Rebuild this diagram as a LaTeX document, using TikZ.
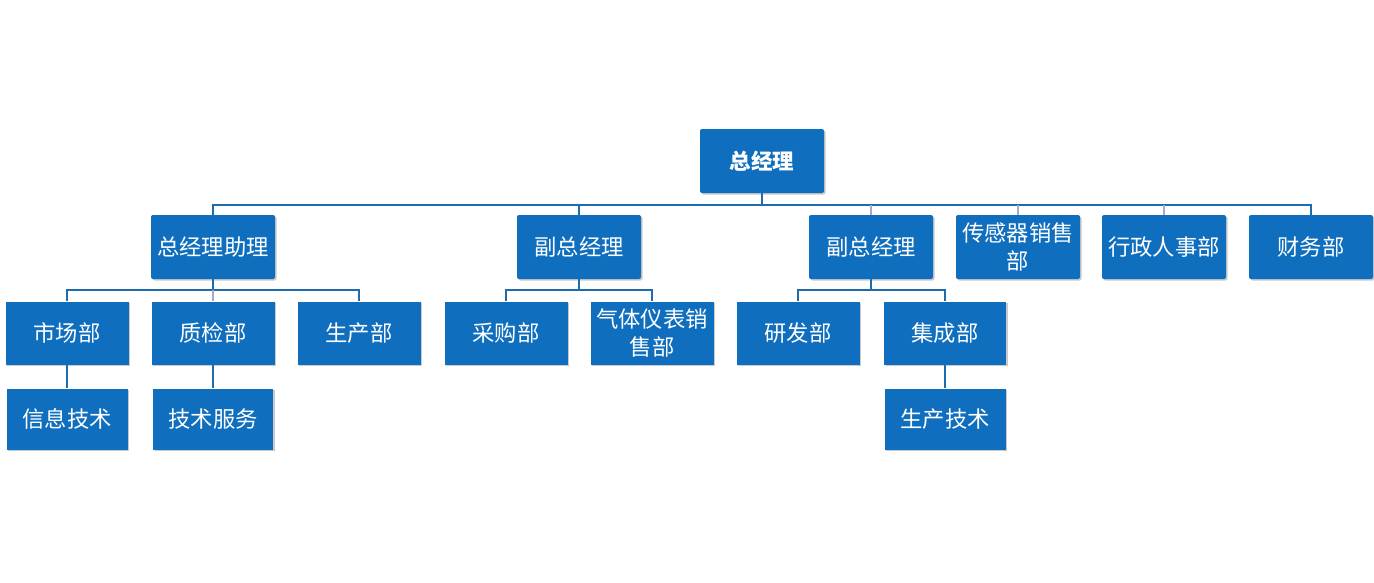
\documentclass[tikz,border=0pt]{standalone}
\usepackage{fontspec}
\setmainfont{Noto Sans CJK SC}
\usetikzlibrary{shadows}
\definecolor{boxblue}{RGB}{15,111,190}
\definecolor{lineblue}{RGB}{30,108,172}
\definecolor{lightline}{RGB}{165,170,200}
\tikzset{
  x=1pt,y=-1pt,
  org/.style={fill=boxblue, text=white, minimum width=124pt, minimum height=64pt, inner sep=0pt,
    font=\fontsize{22.3}{27.5}\selectfont, align=center,
    drop shadow={shadow xshift=1.5pt, shadow yshift=-1.5pt, opacity=0.35, fill=black!60}},
  orgr/.style={org, rounded corners=2pt},
  conn/.style={draw=lineblue, line width=2pt},
  lconn/.style={draw=lightline, line width=2pt},
}
\begin{document}
\begin{tikzpicture}
\useasboundingbox (0,0) rectangle (1374,582);
% level 1
\node[orgr, font=\bfseries\fontsize{21.5}{28}\selectfont] (top) at (762,161) {总经理};
% level 2
\node[orgr] (a1) at (213,247) {总经理助理};
\node[orgr] (a2) at (579,247) {副总经理};
\node[orgr] (a3) at (871,247) {副总经理};
\node[orgr] (a4) at (1018,247) {传感器销售\\部};
\node[orgr] (a5) at (1164,247) {行政人事部};
\node[orgr] (a6) at (1311,247) {财务部};
% level 3
\node[org, minimum width=123pt, minimum height=63pt] (b1) at (67,333) {市场部};
\node[org, minimum width=123pt, minimum height=63pt] (b2) at (213,333) {质检部};
\node[org, minimum width=123pt, minimum height=63pt] (b3) at (359,333) {生产部};
\node[org, minimum width=123pt, minimum height=63pt] (b4) at (506,333) {采购部};
\node[org, minimum width=123pt, minimum height=63pt] (b5) at (652,333) {气体仪表销\\售部};
\node[org, minimum width=123pt, minimum height=63pt] (b6) at (798,333) {研发部};
\node[org, minimum width=122pt, minimum height=63pt] (b7) at (945,333) {集成部};
% level 4
\node[org, minimum width=121pt, minimum height=61pt] (c1) at (67,419) {信息技术};
\node[org, minimum width=120pt, minimum height=61pt] (c2) at (213,419) {技术服务};
\node[org, minimum width=121pt, minimum height=61pt] (c3) at (945,419) {生产技术};
% connectors level 1 -> 2
\draw[conn] (top.south) -- ++(0,12) -| (a1.north);
\draw[conn] (top.south) -- ++(0,12) -| (a2.north);
\draw[conn] (top.south) -- ++(0,12) -| (a3.north);
\draw[conn] (top.south) -- ++(0,12) -| (a6.north);
\draw[conn] (top.south) -- ++(0,12) -| (a4.north);
\draw[conn] (top.south) -- ++(0,12) -| (a5.north);
\draw[lconn] (a3.north) -- ++(0,-10);
\draw[lconn] (a4.north) -- ++(0,-10);
\draw[lconn] (a5.north) -- ++(0,-10);
% level 2 -> 3
\draw[conn] (a1.south) -- ++(0,11) -| (b1.north);
\draw[conn] (a1.south) -- ++(0,11) -| (b3.north);
\draw[lconn] (a1.south) ++(0,11) coordinate (m1) (m1) -- (b2.north);
\draw[conn] (a2.south) -- ++(0,11) -| (b4.north);
\draw[conn] (a2.south) -- ++(0,11) -| (b5.north);
\draw[conn] (a3.south) -- ++(0,11) -| (b6.north);
\draw[conn] (a3.south) -- ++(0,11) -| (b7.north);
% level 3 -> 4
\draw[conn] (b1.south) -- (c1.north);
\draw[conn] (b2.south) -- (c2.north);
\draw[conn] (b7.south) -- (c3.north);
\end{tikzpicture}
\end{document}
